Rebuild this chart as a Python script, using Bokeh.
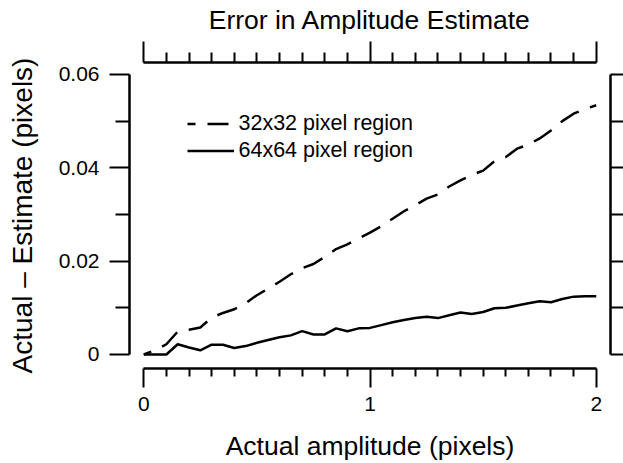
from bokeh.plotting import figure
from bokeh.models import Range1d, LinearAxis, FixedTicker, Legend, LegendItem, CustomJSTickFormatter
from bokeh.embed import file_html
from bokeh.resources import INLINE

amplitude = [0.00, 0.05, 0.10, 0.15, 0.20, 0.25, 0.30, 0.35, 0.40, 0.45,
             0.50, 0.55, 0.60, 0.65, 0.70, 0.75, 0.80, 0.85, 0.90, 0.95,
             1.00, 1.05, 1.10, 1.15, 1.20, 1.25, 1.30, 1.35, 1.40, 1.45,
             1.50, 1.55, 1.60, 1.65, 1.70, 1.75, 1.80, 1.85, 1.90, 1.95, 2.00]
err_32 = [0.0000, 0.0009, 0.0022, 0.0049, 0.0053, 0.0058, 0.0079, 0.0089, 0.0097, 0.0110,
          0.0127, 0.0141, 0.0156, 0.0172, 0.0185, 0.0194, 0.0209, 0.0226, 0.0236, 0.0249,
          0.0261, 0.0275, 0.0291, 0.0307, 0.0320, 0.0334, 0.0343, 0.0360, 0.0373, 0.0385,
          0.0394, 0.0414, 0.0423, 0.0441, 0.0450, 0.0463, 0.0480, 0.0500, 0.0516, 0.0526, 0.0534]
err_64 = [0.0000, 0.0000, 0.0000, 0.0022, 0.0015, 0.0009, 0.0021, 0.0021, 0.0014, 0.0018,
          0.0025, 0.0031, 0.0037, 0.0041, 0.0050, 0.0043, 0.0043, 0.0056, 0.0050, 0.0056,
          0.0057, 0.0063, 0.0069, 0.0074, 0.0078, 0.0081, 0.0078, 0.0084, 0.0090, 0.0087,
          0.0091, 0.0099, 0.0100, 0.0105, 0.0110, 0.0114, 0.0112, 0.0119, 0.0124, 0.0125, 0.0125]
series_labels = ["32x32 pixel region", "64x64 pixel region"]

x_ticks = [0, 1, 2]
x_tick_labels = ["0", "1", "2"]
x_minor = [0.1, 0.2, 0.3, 0.4, 0.5, 0.6, 0.7, 0.8, 0.9,
           1.1, 1.2, 1.3, 1.4, 1.5, 1.6, 1.7, 1.8, 1.9]
y_ticks = [0, 0.02, 0.04, 0.06]
y_tick_labels = ["0", "0.02", "0.04", "0.06"]
y_minor = [0.01, 0.03, 0.05]
y_right_ticks = [0, 0.01, 0.02, 0.03, 0.04, 0.05, 0.06]

title = "Error in Amplitude Estimate"
x_label = "Actual amplitude (pixels)"
y_label = "Actual \u2013 Estimate (pixels)"

FONT = "Liberation Sans"

p = figure(width=623, height=463, output_backend="svg", toolbar_location=None,
           x_range=Range1d(-0.063, 2.063), y_range=Range1d(-0.0030, 0.06257),
           min_border_left=129, min_border_right=13, min_border_top=62, min_border_bottom=95)
p.xgrid.visible = False
p.ygrid.visible = False
p.outline_line_color = None
p.background_fill_color = "white"
p.border_fill_color = "white"


def style(ax, major_out, minor_out):
    ax.axis_line_width = 2.5
    ax.axis_line_color = "black"
    ax.major_tick_in = 0
    ax.minor_tick_in = 0
    ax.major_tick_out = major_out
    ax.minor_tick_out = minor_out
    ax.major_tick_line_width = 2
    ax.minor_tick_line_width = 2
    ax.major_tick_line_color = "black"
    ax.minor_tick_line_color = "black"
    ax.major_label_text_font = FONT
    ax.major_label_text_color = "black"
    ax.axis_label_text_font = FONT
    ax.axis_label_text_font_style = "normal"
    ax.axis_label_text_color = "black"


# bottom axis
xb = p.xaxis[0]
style(xb, 19, 8)
xb.bounds = (0, 2)
xb.ticker = FixedTicker(ticks=x_ticks, minor_ticks=x_minor)
xb.major_label_overrides = dict(zip(x_ticks, x_tick_labels))
xb.major_label_text_font_size = "21px"
xb.major_label_standoff = 9
xb.axis_label = x_label
xb.axis_label_text_font_size = "26.5px"
xb.axis_label_standoff = 17

# left axis
yl = p.yaxis[0]
style(yl, 20, 14)
yl.bounds = (0, 0.06)
yl.ticker = FixedTicker(ticks=y_ticks, minor_ticks=y_minor)
yl.major_label_overrides = dict(zip(y_ticks, y_tick_labels))
yl.major_label_text_font_size = "21px"
yl.major_label_standoff = 10
yl.axis_label = y_label
yl.axis_label_text_font_size = "28px"
yl.axis_label_standoff = 18

# top axis
xt = LinearAxis(bounds=(0, 2), ticker=FixedTicker(ticks=x_ticks, minor_ticks=x_minor),
                formatter=CustomJSTickFormatter(code="return ''"))
style(xt, 21, 10)
xt.major_label_text_font_size = "0px"
xt.major_label_standoff = 0
xt.axis_label = title
xt.axis_label_text_font_size = "26.5px"
xt.axis_label_standoff = 7
p.add_layout(xt, "above")

# right axis
yr = LinearAxis(bounds=(0, 0.06), ticker=FixedTicker(ticks=y_right_ticks, minor_ticks=[]),
                formatter=CustomJSTickFormatter(code="return ''"))
style(yr, 13, 0)
yr.major_label_text_font_size = "0px"
yr.major_label_standoff = 0
p.add_layout(yr, "right")

r32 = p.line(amplitude, err_32, line_color="black", line_width=2.5,
             line_dash="21 12", line_dash_offset=13)
r64 = p.line(amplitude, err_64, line_color="black", line_width=2.5)

legend = Legend(items=[LegendItem(label=series_labels[0], renderers=[r32]),
                       LegendItem(label=series_labels[1], renderers=[r64])],
                location=(57.5, 204.5), glyph_width=47, glyph_height=27, label_height=27,
                label_standoff=5, spacing=0, padding=0, margin=0,
                border_line_color=None, background_fill_alpha=0,
                label_text_font=FONT, label_text_font_size="21.5px", label_text_color="black")
p.add_layout(legend)

open("out.html", "w").write(file_html(p, INLINE))
